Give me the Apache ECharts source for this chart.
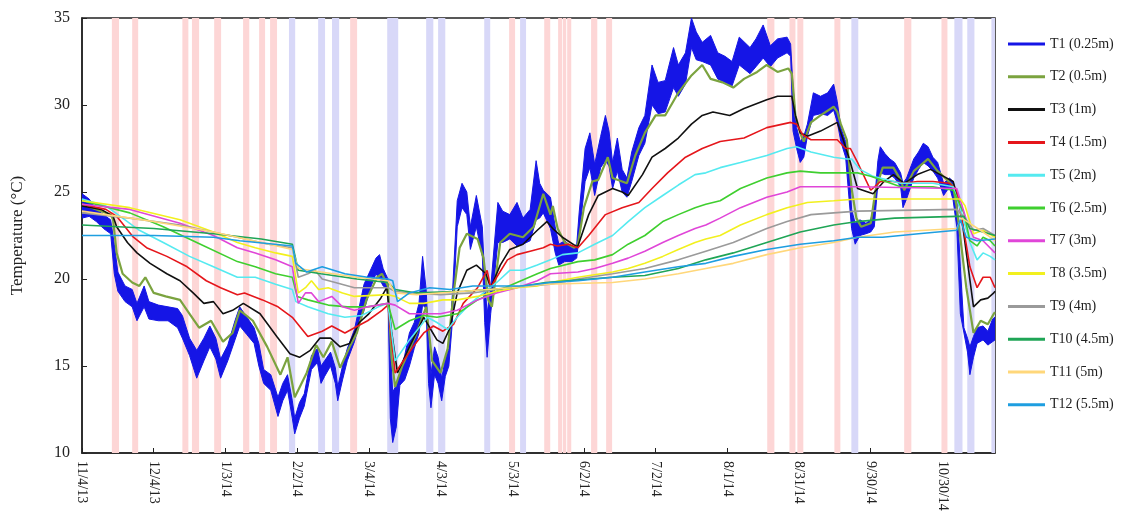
<!DOCTYPE html>
<html>
<head>
<meta charset="utf-8">
<script src="https://cdn.jsdelivr.net/npm/echarts@6/dist/echarts.min.js"></script>
<style>html,body{margin:0;background:#fff}#main{width:1124px;height:527px}</style>
</head>
<body>
<div id="main"></div>
<script>
// x values are days after 11/4/13
var startUTC = Date.UTC(2013, 10, 4)
var dayMax = 382

var names = ['T1 (0.25m)', 'T2 (0.5m)', 'T3 (1m)', 'T4 (1.5m)', 'T5 (2m)', 'T6 (2.5m)',
  'T7 (3m)', 'T8 (3.5m)', 'T9 (4m)', 'T10 (4.5m)', 'T11 (5m)', 'T12 (5.5m)']
var colors = ['#1515e6', '#7ba33f', '#111111', '#e5161b', '#55eaf0', '#3fcf2f',
  '#e046d8', '#f2f01e', '#9a9a9a', '#1fa556', '#ffd77a', '#1e9ee0']

// shaded periods (day ranges)
var pinkBands = [[12.5,15.5],[21,23.5],[42,44.5],[46,49],[55.3,58.2],[67.4,70],[74.1,76.6],[78.7,81.6],
  [112.2,115.1],[178.7,181.2],[193.4,195.9],[199.2,200.9],[201.2,202.6],[203,204.7],[213,215.6],
  [219.3,221.8],[286.7,289.7],[296,298.5],[299.3,301.8],[314.8,317.3],[344,347],[359.6,362.1]]
var blueBands = [[86.6,89.2],[98.8,101.7],[104.6,107.6],[127.7,132.3],[144,147],[149,152],
  [168.3,170.8],[183.3,185.8],[321.9,324.8],[365,368.4],[370.4,373.4],[380.5,382]]

// T1 daily range (low / high envelope)
var t1Days = [0,3,6,9,12,13.5,15,18,21,23,26,28,32,36,40,42,45,48,51,53.5,56,58,61,64,66,69,72,74,76,79,
  82,84,86,88,89,91,93,96,98.5,100,101.5,104,106,107,109,111,114,116,118,121,123,124.5,126,128,129,130,
  131.5,133,135,137,139,141,142.5,144,145,146,147.5,149,150.5,152,153.5,155,157,159,161,162.5,165,167.5,
  168.5,169.5,171,174,176,179,182,184.5,187.5,190,191.5,193,196,198,199.5,202,205,207,208,210.5,212.5,
  214.5,217,219,220.5,222,224,226,228,230,233,235.5,238.5,241,244,247.5,249.5,252.5,255,257,259.5,263,
  266,269,272,275,279.5,282,285,288,291,295,296.5,297.5,299,300.5,302,303.5,306,309,312,314.5,316,317.5,
  319.5,321,322,323.5,325.5,328,330,331.5,333,334,336,338,340,342.5,343.5,345,348,350,352,354,356,358,
  360.5,363,364.5,366,367.5,369,370.5,371.5,373,374.5,377,379,381,382]
var t1Lo = [23.5,23.6,23.3,22.9,22.6,20.3,19.3,18.7,18.4,17.6,18.4,17.7,17.6,17.6,17.2,16.6,15.6,14.3,15.3,
  16.1,15.4,14.3,15.3,16.5,17.3,16.8,16.3,15.0,14.0,13.6,12.1,13.0,13.6,12.0,11.1,12.0,12.7,14.8,15.2,14.0,
  14.4,15.0,14.0,13.0,14.2,15.3,16.4,17.4,18.2,19.6,20.3,20.0,19.6,19.4,12.0,10.6,11.5,13.9,14.2,15.0,16.0,
  16.9,18.5,18.3,14.0,12.6,14.5,14.0,13.0,14.4,15.0,17.6,23.0,24.1,23.7,21.7,23.0,21.3,17.5,15.5,18.0,22.1,
  22.1,22.3,21.9,22.0,22.2,23.4,23.5,23.8,22.9,21.5,20.8,21.0,21.0,21.2,22.5,25.6,26.4,24.8,26.4,26.8,26.5,
  25.2,26.2,25.0,24.7,25.6,27.1,27.8,30.0,29.5,29.6,31.0,30.5,31.2,33.3,32.6,32.5,32.3,31.5,31.3,31.1,32.3,
  31.8,32.2,32.7,32.2,32.7,33.0,32.8,28.5,27.5,26.7,27.0,28.2,29.4,29.5,29.4,29.7,29.0,27.9,27.0,24.5,22.9,
  22.0,22.5,22.6,22.7,23.0,25.5,26.1,26.0,26.0,25.8,25.3,24.1,24.6,25.8,26.3,26.7,26.5,26.2,25.8,24.8,25.3,
  24.5,23.0,18.0,16.9,15.8,14.5,15.5,16.3,16.5,16.2,16.4,16.5]
var t1Hi = [24.9,24.6,24.0,23.7,23.4,22.0,20.4,19.6,19.4,18.6,19.6,18.7,18.5,18.4,18.3,17.9,16.6,15.9,16.6,
  17.3,16.6,15.4,16.2,17.6,18.4,17.8,17.2,16.3,14.8,14.5,13.2,14.0,14.5,13.0,12.0,12.9,13.4,15.6,16.0,15.0,
  15.3,15.8,14.9,13.8,15.0,16.0,17.1,18.4,19.7,20.6,21.2,21.4,20.6,20.0,16.0,13.5,13.9,14.6,15.6,16.9,17.5,
  18.6,21.3,19.4,16.5,14.5,16.1,15.5,14.3,15.4,16.0,19.2,24.5,25.5,25.0,23.0,24.8,23.0,20.0,18.0,19.5,24.4,
  23.9,23.7,24.4,23.5,24.0,26.8,25.5,25.1,24.7,23.0,22.0,22.2,21.8,22.0,23.8,27.5,28.4,26.6,28.2,29.4,28.5,
  26.7,28.1,26.3,25.8,27.3,28.7,29.4,32.3,31.3,31.4,33.3,32.3,33.0,35.0,34.2,33.6,34.0,33.0,32.8,32.5,33.9,
  33.3,33.8,34.6,33.4,33.8,33.9,33.5,31.0,28.7,27.9,28.2,28.9,30.7,30.5,30.7,31.2,30.2,28.7,27.9,26.5,24.0,
  23.2,23.4,23.2,23.4,24.3,26.8,27.6,27.2,26.9,26.7,26.1,25.5,25.8,26.9,27.3,27.8,27.6,27.0,26.7,25.5,25.8,
  25.6,24.6,20.7,17.2,16.6,16.1,16.7,17.2,17.3,17.0,17.7,17.8]

var t2 = [[0,24.3],[6,24.0],[12,23.7],[13,23.4],[14.5,21.5],[17,20.3],[21,19.8],[24,19.6],[26.5,20.1],[30,19.2],
  [35,19.0],[41,18.8],[45,18.0],[49,17.2],[54,17.6],[59,16.4],[63,16.9],[66,18.2],[71.5,17.6],[77.5,16.1],
  [83,14.5],[86,15.5],[89,13.2],[94,14.6],[98,16.2],[101,15.5],[104.5,16.4],[108,14.9],[112,16.1],[115,16.9],
  [119,18.8],[123.5,20.1],[125.5,20.3],[128,19.6],[129.5,15.5],[131,13.8],[134,15.0],[140,16.9],[144,18.4],
  [146.5,15.3],[150,14.6],[153,16.0],[155.5,19.2],[158,21.8],[161,22.6],[165.5,22.3],[168,21.2],[170,18.8],
  [171.5,18.4],[175,22.1],[179,22.6],[184.5,22.4],[189,23.0],[193,24.9],[196,23.7],[197,24.2],[199,22.9],
  [202,22.1],[206,21.8],[207.5,22.0],[210,24.1],[213.5,25.6],[216,25.7],[220,27.0],[222,25.8],[226,25.6],
  [228,25.5],[231.5,27.1],[235.5,28.4],[240,29.4],[244,29.4],[249.5,30.7],[255,31.7],[259.5,32.3],[263,31.5],
  [268,31.3],[272.5,31.0],[277,31.5],[282.5,31.9],[286.5,32.3],[291,31.9],[295.5,32.1],[297,31.8],[298.5,29.4],
  [300.5,28.4],[302,27.9],[305,29.0],[309,29.4],[314.5,29.9],[316,29.6],[317.5,28.9],[320,28.0],[322,25.2],
  [324,23.5],[326,23.0],[330,23.2],[332,25.1],[335,26.4],[339.5,26.4],[342.5,25.7],[344,25.1],[348,26.2],
  [354,26.9],[358,26.2],[362,25.7],[364.5,25.3],[366,24.1],[368,21.8],[370,19.5],[373,16.9],[376,17.6],
  [379,17.4],[381.5,18.0],[382,18.1]]
var t3 = [[0,24.2],[8,24.0],[13,23.6],[14.5,23.0],[19,22.1],[23,21.5],[28.5,20.9],[35.5,20.3],[41,19.9],
  [46.5,19.2],[51,18.6],[55,18.7],[59,18.0],[63,18.2],[67.5,18.6],[74.5,18.0],[81.5,16.7],[87,15.7],[91,15.5],
  [95.5,15.9],[99.5,16.6],[104,16.6],[108,16.1],[112,16.3],[116,17.5],[120,18.0],[125,18.9],[127.5,19.5],
  [129.5,17.0],[132,14.6],[137,16.1],[143,17.8],[145.5,17.2],[148.5,16.5],[151,16.3],[154,17.2],[157,19.2],
  [161,20.5],[165,20.8],[169,20.3],[171,19.5],[175,20.8],[179,21.7],[184.5,22.0],[190.5,22.8],[194.5,23.3],
  [197,22.9],[201,22.4],[206.5,21.9],[207.5,21.9],[212,23.7],[216,24.8],[222,25.2],[226,25.0],[228.5,24.8],
  [234.5,26.0],[238.5,27.0],[244,27.5],[249.5,28.1],[255,28.9],[259.5,29.4],[264,29.6],[271,29.4],[277,29.8],
  [286.5,30.3],[291,30.5],[297,30.5],[298.5,29.4],[300.5,28.4],[303.5,28.2],[309,28.5],[316,29.0],[318.5,28.0],
  [321.5,26.7],[324.5,25.2],[331,24.9],[335.5,25.6],[339.5,26.0],[344,25.5],[349.5,26.0],[355,26.3],
  [360.5,25.9],[364.5,25.6],[367.5,24.1],[370,21.5],[373,18.4],[376,18.8],[379,18.9],[381.5,19.2],[382,19.3]]
var t4 = [[0,24.3],[10,24.0],[14.5,23.6],[21.5,22.4],[27,21.8],[35.5,21.3],[44,20.7],[52,19.9],[58,19.5],
  [65,19.1],[68,19.2],[75.5,18.8],[82,18.4],[88,17.8],[94.5,16.7],[100.5,17.0],[104.5,17.3],[110,16.9],
  [114,17.2],[119.5,17.6],[125.5,18.2],[128,18.5],[131,14.6],[134.5,15.3],[138.5,16.1],[143,16.9],[147,17.3],
  [151,17.0],[155.5,17.4],[159.5,18.6],[165.5,19.5],[169.5,20.5],[171,19.5],[173.5,20.1],[178,21.1],[182,21.4],
  [187.5,21.6],[193,21.8],[196,22.0],[199,21.9],[203.5,22.0],[207.5,21.8],[212,22.5],[219,23.7],[226,24.1],
  [233,24.4],[238.5,25.2],[245,26.1],[252.5,27.0],[259.5,27.5],[267,27.9],[277,28.1],[286.5,28.7],[296.5,29.0],
  [299,28.9],[301.5,28.3],[305,28.0],[312,28.0],[316,28.0],[319.5,27.5],[321.5,27.5],[324.5,26.7],[325.5,26.4],
  [330,25.1],[334,25.6],[339.5,25.6],[344,25.5],[349.5,25.6],[356,25.6],[363,25.5],[366,25.1],[369,22.8],
  [371.5,20.7],[374.5,19.5],[377,20.1],[380,20.1],[382,19.5]]
var t5 = [[0,24.6],[10,24.2],[16,23.6],[24,22.8],[34,22.1],[45,21.3],[55,20.7],[65,20.1],[72.5,20.1],[81,19.7],
  [88,19.4],[89.5,18.7],[94.5,18.4],[103,18.0],[110,17.8],[117,17.9],[124,18.4],[128,18.6],[131,15.3],[137,16.5],
  [144.5,17.8],[148.5,17.5],[153,17.1],[157,17.8],[162.5,18.6],[168,19.2],[173.5,19.8],[179,20.5],[184.5,20.5],
  [190.5,20.8],[196,21.1],[201,21.4],[207.5,21.5],[214.5,22.0],[222,22.5],[228.5,23.3],[235.5,24.1],[243,24.8],
  [249.5,25.4],[256.5,26.0],[261,26.1],[267,26.4],[275.5,26.7],[286.5,27.1],[295,27.5],[299,27.6],[305,27.3],
  [314.5,27.0],[320,26.9],[322,26.9],[325.5,26.3],[331,25.9],[342.5,25.5],[356,25.5],[364.5,25.3],[368,23.8],
  [371.5,22.1],[374.5,21.1],[377,21.5],[380,21.3],[382,21.1]]
var t6 = [[0,24.5],[20,23.8],[34,23.0],[48,22.1],[65,21.0],[72.5,20.7],[81,20.3],[88,20.1],[90,19.0],[94.5,18.8],
  [103,18.5],[111,18.4],[119.5,18.4],[128,18.6],[131,17.1],[137,17.6],[143,17.9],[148.5,17.8],[157,18.0],
  [165.5,18.8],[173.5,19.3],[182,19.8],[190.5,20.3],[196,20.6],[207.5,21.0],[214.5,21.1],[222,21.4],[228.5,22.0],
  [235.5,22.5],[243,23.3],[249.5,23.7],[256.5,24.1],[261,24.3],[267,24.5],[275.5,25.2],[286.5,25.8],[295,26.1],
  [300.5,26.2],[309,26.1],[324.5,26.1],[330,25.9],[342.5,25.3],[356,25.3],[364.5,25.1],[369,23.8],[371.5,22.2],
  [374.5,21.9],[377,22.4],[380,22.2],[382,21.9]]
var t7 = [[0,24.3],[20,24.0],[41,23.2],[55,22.5],[65,21.8],[72.5,21.5],[81,21.1],[88,20.7],[90.5,18.6],[93.5,19.2],
  [96,19.2],[99,18.7],[104.5,19.0],[109,18.4],[114,18.2],[119.5,18.4],[128,18.6],[131,18.5],[137,18.0],[143,18.0],
  [150,18.0],[157,18.2],[165.5,18.8],[173.5,19.2],[182,19.5],[190.5,19.9],[196,20.3],[207.5,20.4],[214.5,20.6],
  [222,20.9],[228.5,21.2],[235.5,21.6],[243,22.1],[249.5,22.5],[256.5,22.9],[261,23.1],[267,23.5],[275.5,24.1],
  [286.5,24.7],[295,25.0],[300.5,25.3],[324.5,25.3],[366,25.2],[370,23.4],[373,22.4],[377,22.2],[382,21.5]]
var t8 = [[0,24.5],[20,24.1],[41,23.4],[55,22.7],[65,22.1],[72.5,21.8],[81,21.5],[88,21.3],[90.5,19.2],[93.5,19.5],
  [96,19.9],[99,19.4],[103,19.5],[109,19.2],[114,19.0],[128,19.1],[131,19.0],[137,18.6],[143,18.6],[151,18.8],
  [157,18.8],[165.5,19.0],[173.5,19.3],[182,19.5],[190.5,19.6],[196,19.8],[207.5,20.1],[222,20.4],[228.5,20.6],
  [235.5,20.9],[243,21.3],[249.5,21.7],[256.5,22.1],[261,22.3],[267,22.5],[275.5,23.1],[286.5,23.7],[295,24.1],
  [303.5,24.4],[314.5,24.5],[324.5,24.6],[367.5,24.6],[369.5,24.2],[373,22.6],[377,22.8],[382,22.4]]
var t9 = [[0,23.8],[20,23.5],[41,23.1],[65,22.4],[78,22.0],[88,21.8],[90.5,20.1],[94.5,20.3],[97.5,20.5],
  [100.5,20.0],[106,19.8],[114,19.5],[128,19.5],[131,19.3],[137,19.2],[150,19.1],[163.5,19.2],[178,19.5],
  [196,19.7],[207.5,20.0],[222,20.3],[235.5,20.6],[249.5,21.1],[261,21.6],[272.5,22.1],[286.5,22.9],[295,23.3],
  [305,23.7],[314.5,23.8],[324.5,23.9],[366,24.0],[370,23.4],[373,22.8],[377,22.9],[382,22.5]]
var t10 = [[0,23.1],[30,22.9],[55,22.6],[75,22.3],[88,22.0],[90.5,20.5],[100,20.3],[115,20.0],[128,19.8],
  [131,19.4],[140,19.2],[160,19.3],[180,19.5],[194,19.8],[222,20.1],[235.5,20.2],[249.5,20.6],[261,21.1],
  [272.5,21.5],[286.5,22.1],[300.5,22.7],[314.5,23.1],[324.5,23.3],[340,23.5],[366,23.6],[369,23.6],
  [371.5,22.9],[377,22.7],[382,22.5]]
var t11 = [[0,23.9],[30,23.3],[55,22.7],[75,22.1],[88,21.7],[90.5,20.6],[100,20.4],[115,20.1],[128,19.9],
  [131,19.2],[140,19.1],[160,19.3],[180,19.5],[194,19.7],[222,19.8],[235.5,20.0],[249.5,20.3],[261,20.6],
  [272.5,20.9],[286.5,21.4],[300.5,21.8],[314.5,22.1],[324.5,22.4],[340,22.7],[366,22.9],[368,23.5],
  [371.5,23.2],[377,22.7],[382,22.2]]
var t12 = [[0,22.5],[30,22.5],[55,22.4],[66,22.2],[88,21.9],[89.5,20.9],[94,20.4],[100.5,20.7],[110,20.3],
  [119.5,20.1],[128,20.0],[130,19.9],[132,18.7],[137,19.2],[145.5,19.5],[154,19.4],[163.5,19.6],[184.5,19.6],
  [196,19.8],[207.5,19.9],[222,20.1],[235.5,20.4],[249.5,20.7],[261,20.9],[272.5,21.3],[286.5,21.7],[300.5,22.0],
  [314.5,22.2],[324.5,22.4],[335,22.4],[350,22.6],[366,22.8],[367.5,23.4],[370,22.4],[374.5,22.2],[382,22.3]]

var lineData = [t2, t3, t4, t5, t6, t7, t8, t9, t10, t11, t12]
var serif = 'Liberation Serif'

function dayLabel(v) {
  var d = new Date(startUTC + v * 86400000)
  return (d.getUTCMonth() + 1) + '/' + d.getUTCDate() + '/' + String(d.getUTCFullYear()).slice(2)
}

function bandItems(list, color) {
  return list.map(function (b) {
    return [{ xAxis: b[0], itemStyle: { color: color } }, { xAxis: b[1] }]
  })
}

var series = [{
  type: 'line', name: 'bands', data: [], silent: true, z: 1,
  markArea: { silent: true, data: bandItems(pinkBands, '#fdd6d6').concat(bandItems(blueBands, '#d8d8f8')) }
}, {
  type: 'custom', name: names[0], z: 2, clip: true,
  itemStyle: { color: colors[0] },
  data: [[0, 20]],
  renderItem: function (params, api) {
    var top = [], bot = []
    for (var i = 0; i < t1Days.length; i++) {
      top.push(api.coord([t1Days[i], t1Hi[i]]))
      bot.push(api.coord([t1Days[i], t1Lo[i]]))
    }
    return {
      type: 'polygon',
      shape: { points: top.concat(bot.reverse()) },
      style: { fill: colors[0], stroke: colors[0], lineWidth: 1 }
    }
  }
}]
lineData.forEach(function (d, i) {
  series.push({
    type: 'line', name: names[i + 1], data: d, z: 3 + i,
    symbol: 'none', animation: false,
    lineStyle: { color: colors[i + 1], width: i === 0 ? 2.2 : 1.6 },
    itemStyle: { color: colors[i + 1] }
  })
})

var chart = echarts.init(document.getElementById('main'))
chart.setOption({
  animation: false,
  backgroundColor: '#fff',
  grid: { left: 82, top: 18, right: 129, bottom: 74, show: true, borderColor: '#222', borderWidth: 1.5 },
  legend: {
    orient: 'vertical', left: 1003, top: 32, itemWidth: 37, itemHeight: 3, itemGap: 18.8,
    icon: 'rect', data: names,
    textStyle: { fontFamily: serif, fontSize: 14, color: '#222' }
  },
  xAxis: {
    type: 'value', min: 0, max: dayMax, interval: 30,
    axisLine: { lineStyle: { color: '#222', width: 1.5 } },
    axisTick: { inside: true, length: 5, lineStyle: { color: '#222' } },
    splitLine: { show: false },
    axisLabel: { rotate: -90, margin: 8, showMaxLabel: false, fontFamily: serif, fontSize: 14, color: '#222', formatter: dayLabel }
  },
  yAxis: {
    type: 'value', min: 10, max: 35, interval: 5,
    name: 'Temperature (°C)', nameLocation: 'middle', nameGap: 56, nameRotate: 90,
    nameTextStyle: { fontFamily: serif, fontSize: 17, color: '#222' },
    axisLine: { show: true, lineStyle: { color: '#222', width: 1.5 } },
    axisTick: { inside: true, length: 5, lineStyle: { color: '#222' } },
    splitLine: { show: false },
    axisLabel: { margin: 12, fontFamily: serif, fontSize: 16, color: '#222' }
  },
  series: series
})
</script>
</body>
</html>
